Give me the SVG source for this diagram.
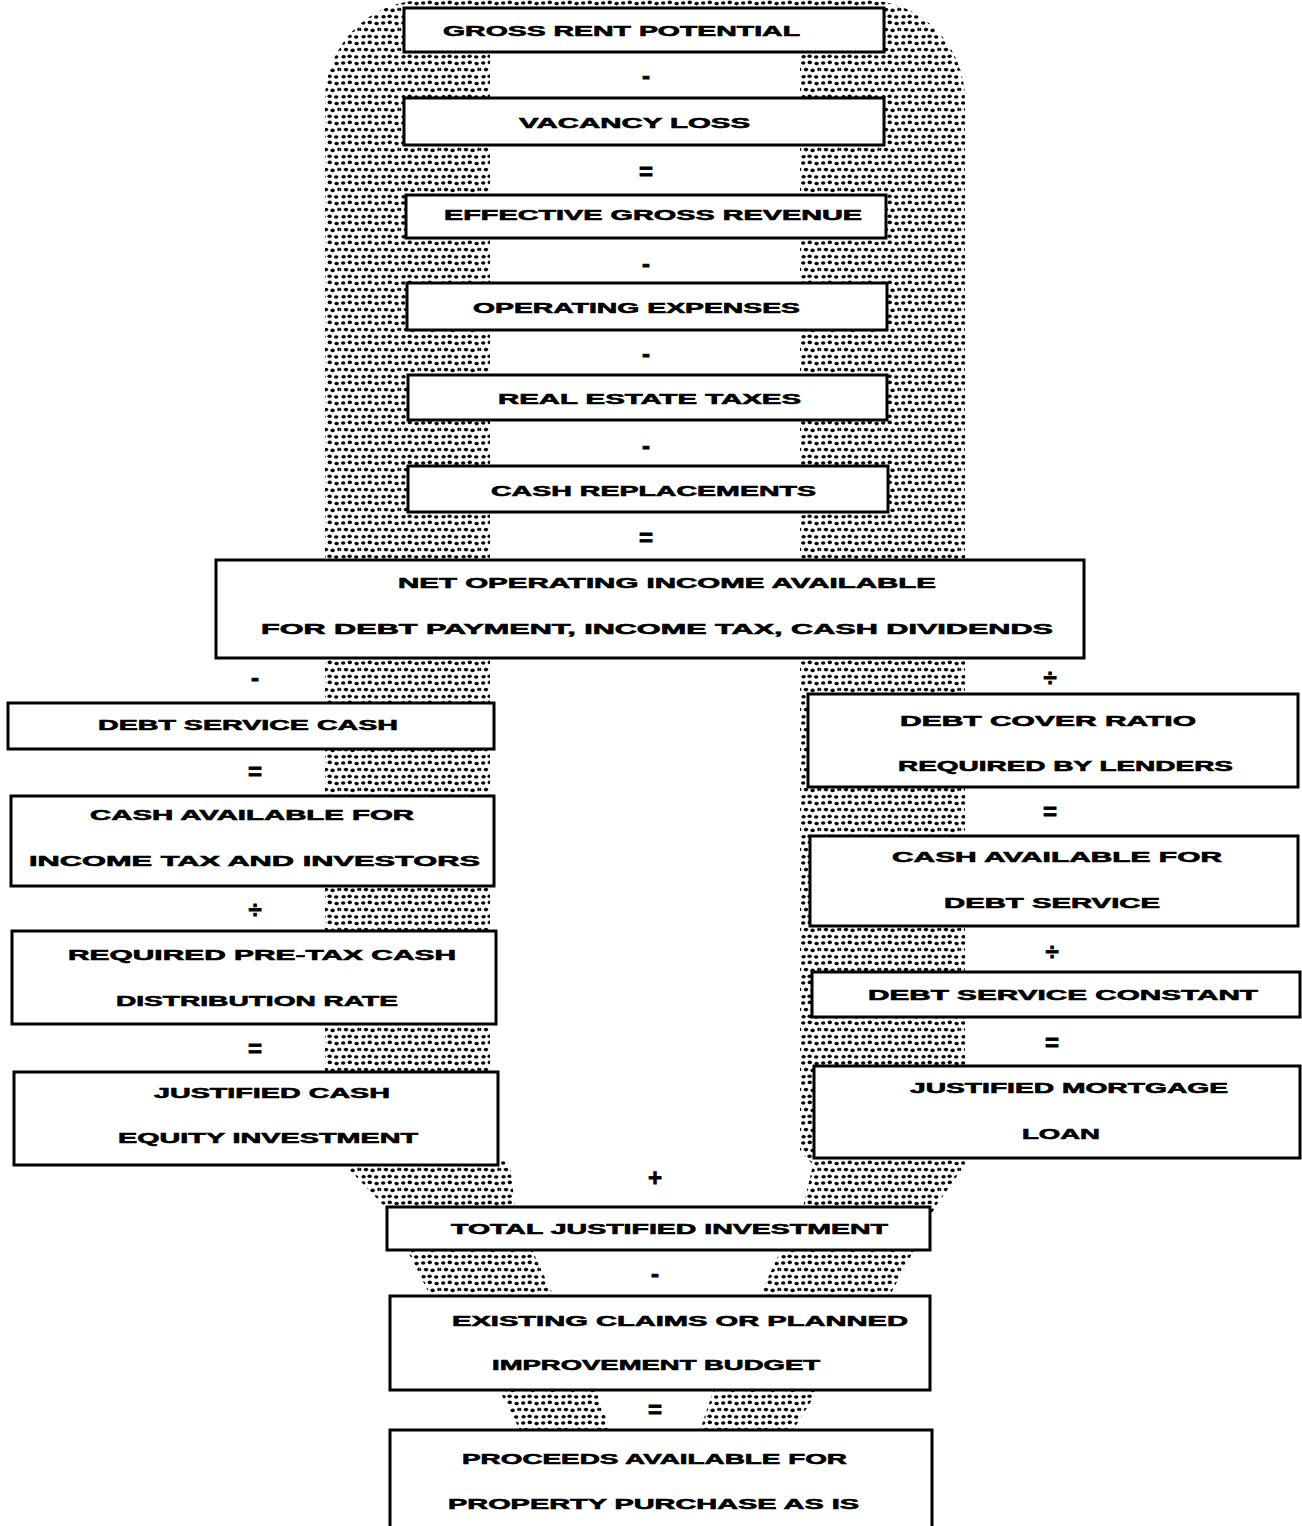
<svg xmlns="http://www.w3.org/2000/svg" width="1302" height="1526" viewBox="0 0 1302 1526">
<defs>
<pattern id="stipple" patternUnits="userSpaceOnUse" width="20" height="20">
<ellipse cx="3.2" cy="3.0" rx="2.2" ry="1.8"/>
<ellipse cx="9.8" cy="2.4" rx="2.2" ry="1.8"/>
<ellipse cx="16.6" cy="3.6" rx="2.2" ry="1.8"/>
<ellipse cx="6.0" cy="9.6" rx="2.2" ry="1.8"/>
<ellipse cx="12.6" cy="10.4" rx="2.2" ry="1.8"/>
<ellipse cx="18.6" cy="9.4" rx="1.3" ry="1.8"/>
<ellipse cx="0.4" cy="9.4" rx="0.9" ry="1.6"/>
<ellipse cx="3.6" cy="16.8" rx="2.2" ry="1.8"/>
<ellipse cx="9.6" cy="16.2" rx="2.2" ry="1.8"/>
<ellipse cx="16.2" cy="17.0" rx="2.2" ry="1.8"/>
</pattern>
<style>
.box{fill:#fff;stroke:#000;stroke-width:3}
.t{font-family:"Liberation Sans",Arial,sans-serif;font-weight:bold;font-size:15px;fill:#000;stroke:#000;stroke-width:0.6}
.op{font-family:"Liberation Sans",Arial,sans-serif;font-weight:bold;font-size:24px;fill:#000;stroke:#000;stroke-width:0.8;text-anchor:middle}
</style>
</defs>
<rect width="1302" height="1526" fill="#fff"/>
<path id="band" fill="url(#stipple)" d="M425,0 H865 A100,100 0 0 1 965,100 V1165 L935,1207 L913,1252 L890,1295 L817,1392 L793,1430 L700,1430 L713,1392 L760,1295 L780,1252 L803,1207 L813,1165 L800,1150 V30 H490 V1150 L510,1165 L515,1207 L533,1252 L553,1295 L597,1392 L610,1430 L520,1430 L500,1392 L430,1295 L408,1252 L385,1207 L345,1165 L325,1140 V100 A100,100 0 0 1 425,0 Z"/>
<g id="connectors">
<text class="op" x="646" y="84">-</text>
<text class="op" x="646" y="180">=</text>
<text class="op" x="646" y="272">-</text>
<text class="op" x="646" y="362">-</text>
<text class="op" x="646" y="454">-</text>
<text class="op" x="646" y="546">=</text>
<text class="op" x="255" y="686">-</text>
<text class="op" x="1050" y="686">÷</text>
<text class="op" x="255" y="780">=</text>
<text class="op" x="255" y="918">÷</text>
<text class="op" x="255" y="1057">=</text>
<text class="op" x="1050" y="820">=</text>
<text class="op" x="1052" y="960">÷</text>
<text class="op" x="1052" y="1051">=</text>
<text class="op" x="655" y="1186">+</text>
<text class="op" x="655" y="1282">-</text>
<text class="op" x="655" y="1418">=</text>
</g>
<g id="n1"><rect class="box" x="404" y="8" width="480" height="44"/><text class="t" x="443" y="36" textLength="357" lengthAdjust="spacingAndGlyphs">GROSS RENT POTENTIAL</text></g>
<g id="n2"><rect class="box" x="404" y="98" width="480" height="47"/><text class="t" x="519" y="128" textLength="231" lengthAdjust="spacingAndGlyphs">VACANCY LOSS</text></g>
<g id="n3"><rect class="box" x="406" y="195" width="480" height="43"/><text class="t" x="444" y="220" textLength="418" lengthAdjust="spacingAndGlyphs">EFFECTIVE GROSS REVENUE</text></g>
<g id="n4"><rect class="box" x="407" y="283" width="480" height="47"/><text class="t" x="473" y="313" textLength="327" lengthAdjust="spacingAndGlyphs">OPERATING EXPENSES</text></g>
<g id="n5"><rect class="box" x="408" y="375" width="479" height="45"/><text class="t" x="498" y="404" textLength="303" lengthAdjust="spacingAndGlyphs">REAL ESTATE TAXES</text></g>
<g id="n6"><rect class="box" x="408" y="466" width="480" height="46"/><text class="t" x="491" y="496" textLength="325" lengthAdjust="spacingAndGlyphs">CASH REPLACEMENTS</text></g>
<g id="n7"><rect class="box" x="216" y="560" width="868" height="98"/><text class="t" x="398" y="588" textLength="538" lengthAdjust="spacingAndGlyphs">NET OPERATING INCOME AVAILABLE</text><text class="t" x="261" y="634" textLength="792" lengthAdjust="spacingAndGlyphs">FOR DEBT PAYMENT, INCOME TAX, CASH DIVIDENDS</text></g>
<g id="l1"><rect class="box" x="8" y="703" width="486" height="46"/><text class="t" x="98" y="730" textLength="300" lengthAdjust="spacingAndGlyphs">DEBT SERVICE CASH</text></g>
<g id="l2"><rect class="box" x="11" y="796" width="483" height="90"/><text class="t" x="90" y="820" textLength="324" lengthAdjust="spacingAndGlyphs">CASH AVAILABLE FOR</text><text class="t" x="29" y="866" textLength="451" lengthAdjust="spacingAndGlyphs">INCOME TAX AND INVESTORS</text></g>
<g id="l3"><rect class="box" x="12" y="931" width="484" height="93"/><text class="t" x="68" y="960" textLength="388" lengthAdjust="spacingAndGlyphs">REQUIRED PRE-TAX CASH</text><text class="t" x="116" y="1006" textLength="282" lengthAdjust="spacingAndGlyphs">DISTRIBUTION RATE</text></g>
<g id="l4"><rect class="box" x="14" y="1072" width="484" height="93"/><text class="t" x="154" y="1098" textLength="236" lengthAdjust="spacingAndGlyphs">JUSTIFIED CASH</text><text class="t" x="118" y="1143" textLength="300" lengthAdjust="spacingAndGlyphs">EQUITY INVESTMENT</text></g>
<g id="r1"><rect class="box" x="808" y="694" width="490" height="93"/><text class="t" x="900" y="726" textLength="296" lengthAdjust="spacingAndGlyphs">DEBT COVER RATIO</text><text class="t" x="898" y="771" textLength="335" lengthAdjust="spacingAndGlyphs">REQUIRED BY LENDERS</text></g>
<g id="r2"><rect class="box" x="810" y="836" width="488" height="90"/><text class="t" x="892" y="862" textLength="330" lengthAdjust="spacingAndGlyphs">CASH AVAILABLE FOR</text><text class="t" x="944" y="908" textLength="216" lengthAdjust="spacingAndGlyphs">DEBT SERVICE</text></g>
<g id="r3"><rect class="box" x="812" y="972" width="488" height="45"/><text class="t" x="868" y="1000" textLength="390" lengthAdjust="spacingAndGlyphs">DEBT SERVICE CONSTANT</text></g>
<g id="r4"><rect class="box" x="814" y="1066" width="486" height="92"/><text class="t" x="910" y="1093" textLength="318" lengthAdjust="spacingAndGlyphs">JUSTIFIED MORTGAGE</text><text class="t" x="1022" y="1139" textLength="78" lengthAdjust="spacingAndGlyphs">LOAN</text></g>
<g id="b1"><rect class="box" x="387" y="1207" width="543" height="43"/><text class="t" x="451" y="1234" textLength="437" lengthAdjust="spacingAndGlyphs">TOTAL JUSTIFIED INVESTMENT</text></g>
<g id="b2"><rect class="box" x="390" y="1296" width="540" height="94"/><text class="t" x="452" y="1326" textLength="456" lengthAdjust="spacingAndGlyphs">EXISTING CLAIMS OR PLANNED</text><text class="t" x="492" y="1370" textLength="328" lengthAdjust="spacingAndGlyphs">IMPROVEMENT BUDGET</text></g>
<g id="b3"><rect class="box" x="390" y="1430" width="542" height="100"/><text class="t" x="462" y="1464" textLength="385" lengthAdjust="spacingAndGlyphs">PROCEEDS AVAILABLE FOR</text><text class="t" x="448" y="1509" textLength="411" lengthAdjust="spacingAndGlyphs">PROPERTY PURCHASE AS IS</text></g>
</svg>
